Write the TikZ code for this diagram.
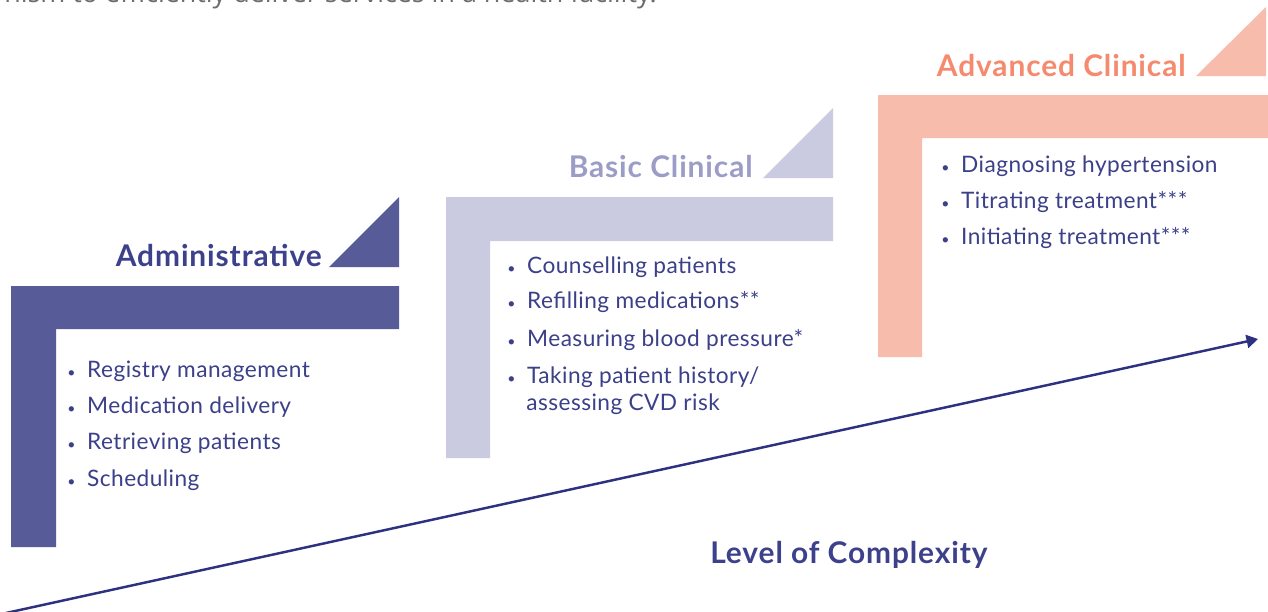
\documentclass[tikz,border=0pt]{standalone}
\usepackage{fontspec}
\setmainfont{Lato}
\newfontfamily\introfont{Open Sans}
\newfontfamily\headfont{Lato}[LetterSpace=3]
\newfontfamily\taskfont{Lato}[LetterSpace=2]
\usepackage{xcolor}
\usetikzlibrary{arrows.meta, positioning}

\definecolor{adminfill}{HTML}{575B97}
\definecolor{admintext}{HTML}{3D418B}
\definecolor{basicfill}{HTML}{CACBE0}
\definecolor{basictext}{HTML}{9B9DC7}
\definecolor{advfill}{HTML}{F7BCAB}
\definecolor{advtext}{HTML}{F58A6E}
\definecolor{listtext}{HTML}{3B4089}
\definecolor{arrowcol}{HTML}{2E3180}
\definecolor{introgray}{HTML}{6E6E6E}

\newcommand{\dotitem}{\makebox[11.3pt][l]{\footnotesize\textbullet}}

\begin{document}
\begin{tikzpicture}[x=0.02cm, y=-0.02cm,
	title/.style={anchor=base east, inner sep=0pt, font=\headfont\fontsize{17}{20}\selectfont\bfseries},
	task/.style={anchor=base west, inner sep=0pt, text=listtext, font=\taskfont\fontsize{12.9}{15}\selectfont},
	arrowline/.style={draw=arrowcol, line width=1.4pt, -{Triangle[length=6.5pt,width=7.5pt]}}]
	\clip (0,0) rectangle (1268,612);
	\fill[white] (0,0) rectangle (1268,612);
	% cut-off line of text above the figure
	\node[anchor=base east, inner sep=0pt, text=introgray, font=\introfont\fontsize{15.3}{18}\selectfont] at (657,3) (intro) {nism to efficiently deliver services in a health facility.};

	% administrative step
	\fill[adminfill] (329,267) -- (399,267) -- (399,197) -- cycle;
	\fill[adminfill] (11,286) -- (399,286) -- (399,329) -- (56,329) -- (56,547) -- (11,547) -- cycle;
	\node[title, text=admintext] at (322,266) (admin) {Administrative};
	\node[task] at (67,377) (registry) {\dotitem Registry management};
	\node[task] at (67,413) (delivery) {\dotitem Medication delivery};
	\node[task] at (67,449) (retrieve) {\dotitem Retrieving patients};
	\node[task] at (67,486) (schedule) {\dotitem Scheduling};

	% basic clinical step
	\fill[basicfill] (763,178) -- (833,178) -- (833,108) -- cycle;
	\fill[basicfill] (446,197) -- (833,197) -- (833,241) -- (490,241) -- (490,458) -- (446,458) -- cycle;
	\node[title, text=basictext] at (753,177) (basic) {Basic Clinical};
	\node[task] at (507,273) (counsel) {\dotitem Counselling patients};
	\node[task] at (507,308) (refill) {\dotitem Refilling medications**};
	\node[task] at (507,346) (measure) {\dotitem Measuring blood pressure*};
	\node[task] at (507,383) (history) {\dotitem Taking patient history/};
	\node[task] at (526,410) (cvdrisk) {assessing CVD risk};

	% advanced clinical step
	\fill[advfill] (1196,76) -- (1266,76) -- (1266,7) -- cycle;
	\fill[advfill] (878,95) -- (1268,95) -- (1268,138) -- (922,138) -- (922,357) -- (878,357) -- cycle;
	\node[title, text=advtext] at (1186,76) (advanced) {Advanced Clinical};
	\node[task] at (941,172) (diagnose) {\dotitem Diagnosing hypertension};
	\node[task] at (941,208) (titrate) {\dotitem Titrating treatment***};
	\node[task] at (941,244) (initiate) {\dotitem Initiating treatment***};

	% complexity arrow
	\coordinate (low) at (6,613);
	\coordinate (high) at (1258,339);
	\draw[arrowline] (low) -- (high);
	\node[anchor=base west, inner sep=0pt, text=admintext, font=\headfont\fontsize{17}{20}\selectfont\bfseries] at (710,563) (complexity) {Level of Complexity};
\end{tikzpicture}
\end{document}
